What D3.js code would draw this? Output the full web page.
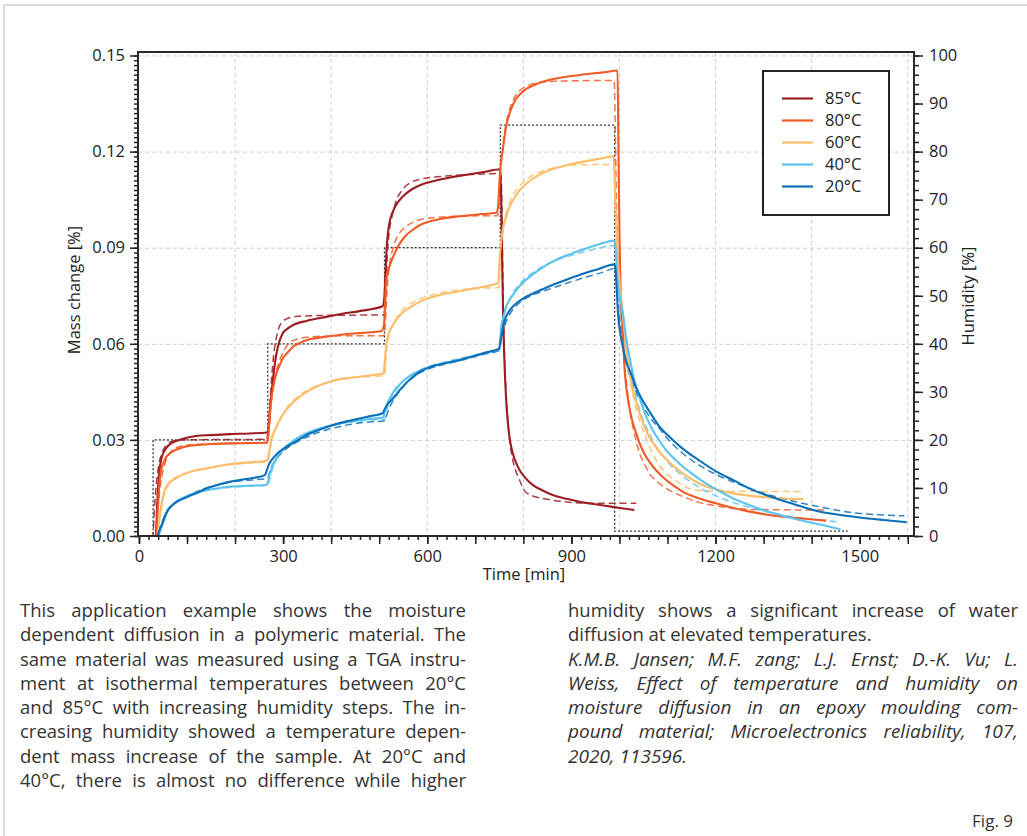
<!DOCTYPE html>
<html><head><meta charset="utf-8">
<script src="https://cdn.jsdelivr.net/npm/d3@7/dist/d3.min.js"></script>
<style>
html,body{margin:0;padding:0;background:#fff;}
#wrap{position:relative;width:1027px;height:836px;overflow:hidden;}
svg{position:absolute;left:0;top:0;}
.col{position:absolute;font-family:"Open Sans",sans-serif;font-size:18.5px;line-height:24.3px;color:#333;}
.col div{text-align:justify;text-align-last:justify;white-space:nowrap;}
.col div.last{text-align-last:left;}
.col .it{font-style:italic;font-size:19px;}
#fig{position:absolute;right:14px;top:809px;font-family:"Open Sans",sans-serif;font-size:17px;color:#333;}
</style></head>
<body><div id="wrap"><svg id="chart" width="1027" height="836"></svg>
<div class="col" id="leftcol" style="left:20px;top:598px;width:446px;"></div>
<div class="col" id="rightcol" style="left:568px;top:598px;width:450px;"></div>
<div id="fig">Fig. 9</div>
</div>
<script>
// ---------- DATA ----------
const legendLabels = ["85°C","80°C","60°C","40°C","20°C"];
const seriesColors = ["#9b1c22","#f05a24","#fdbd68","#5cc3ee","#0b70b8"];
const yTicks = [0,0.03,0.06,0.09,0.12,0.15];
const xTicks = [0,300,600,900,1200,1500];
const hTicks = [0,10,20,30,40,50,60,70,80,90,100];

// humidity program [min, %]
const humT = [0,29.5,29.5,268,268,511,511,752,752,990,990,1475];
const humV = [0,0,20,20,40,40,60,60,85.5,85.5,1,1];

// measured (solid) [min, mass %]
const meas85 = [[0,0],[35,0],[38,0.010],[41,0.018],[46,0.0237],[51,0.026],[57,0.0275],[68,0.029],[84,0.0300],[100,0.0307],[119,0.0312],[150,0.0315],[188,0.0318],[230,0.032],[266,0.0323],
[270,0.034],[274,0.042],[278,0.0476],[283,0.054],[289,0.059],[299,0.0632],[310,0.0648],[320,0.0658],[350,0.0672],[390,0.0684],[420,0.0693],[459,0.0702],[507,0.0717],
[511,0.075],[513,0.082],[516,0.091],[521,0.0975],[528,0.1011],[542,0.1048],[555,0.1068],[570,0.1084],[590,0.1098],[618,0.111],[650,0.112],[688,0.1129],[720,0.1137],[752,0.1145],
[754,0.105],[756,0.085],[758,0.068],[761,0.053],[764,0.043],[768,0.035],[772,0.030],[778,0.0258],[785,0.0228],[792,0.0206],[805,0.018],[820,0.0159],[840,0.0142],[861,0.0128],[890,0.0116],[917,0.0107],[950,0.0099],[986,0.0091],[1031,0.0081]];
const meas80 = [[0,0],[36,0],[39,0.008],[42,0.015],[46,0.0206],[51,0.0228],[57,0.0247],[68,0.0262],[84,0.0273],[100,0.028],[119,0.0284],[150,0.0287],[188,0.0289],[230,0.029],[266,0.0292],
[269,0.031],[272,0.037],[275,0.0424],[280,0.047],[286,0.0508],[292,0.053],[299,0.0554],[308,0.057],[320,0.059],[335,0.0603],[355,0.0614],[390,0.0622],[424,0.0629],[465,0.0634],[505,0.064],
[510,0.066],[512,0.072],[514,0.0788],[517,0.082],[521,0.084],[528,0.0868],[535,0.0892],[545,0.0918],[556,0.0939],[570,0.0956],[584,0.097],[605,0.0982],[632,0.0991],[660,0.0997],[688,0.1001],[715,0.1005],[745,0.101],
[748,0.104],[750,0.110],[753,0.116],[757,0.1204],[764,0.1277],[771,0.1318],[778,0.1345],[785,0.1365],[795,0.1382],[806,0.1396],[820,0.1406],[834,0.1415],[850,0.1422],[868,0.1428],[900,0.1436],[938,0.1443],[970,0.1448],[996,0.1453],
[998,0.12],[1000,0.095],[1003,0.0746],[1007,0.0643],[1010,0.0539],[1013,0.048],[1017,0.0434],[1022,0.039],[1028,0.0352],[1035,0.032],[1042,0.0289],[1050,0.0262],[1062,0.0232],[1078,0.0202],[1097,0.0175],[1115,0.0155],[1132,0.0138],[1165,0.0118],[1201,0.0102],[1235,0.0088],[1271,0.0076],[1305,0.0067],[1340,0.006],[1385,0.0054],[1430,0.0048]];
const meas60 = [[0,0],[38,0],[42,0.005],[46,0.009],[50,0.0123],[57,0.0154],[63,0.0166],[70,0.0175],[84,0.0187],[98,0.0196],[120,0.0205],[140,0.0211],[165,0.0218],[188,0.0224],[230,0.023],[266,0.0235],
[270,0.0255],[273,0.028],[275,0.030],[280,0.0322],[286,0.0341],[295,0.0368],[306,0.0393],[320,0.0416],[334,0.0434],[350,0.0451],[369,0.0466],[390,0.0478],[410,0.0487],[435,0.0493],[459,0.0497],[485,0.0502],[509,0.0507],
[512,0.055],[514,0.059],[517,0.0615],[521,0.0637],[528,0.0657],[535,0.0674],[545,0.0692],[556,0.0705],[570,0.0719],[584,0.0731],[600,0.0741],[618,0.0749],[640,0.0757],[667,0.0764],[690,0.0771],[709,0.0776],[730,0.0782],[748,0.079],
[750,0.085],[752,0.0892],[757,0.0955],[764,0.0997],[771,0.1027],[780,0.1052],[792,0.1079],[805,0.1099],[820,0.1116],[836,0.113],[854,0.1142],[878,0.1153],[903,0.1162],[930,0.117],[960,0.1178],[988,0.1185],
[991,0.105],[995,0.09],[1000,0.0799],[1007,0.0695],[1014,0.059],[1019,0.053],[1024,0.0487],[1030,0.0443],[1038,0.0403],[1046,0.0366],[1055,0.0331],[1068,0.0295],[1083,0.0263],[1100,0.0236],[1118,0.0211],[1140,0.0187],[1166,0.0164],[1200,0.0146],[1236,0.0133],[1270,0.0126],[1305,0.0121],[1345,0.0117],[1383,0.0115]];
const meas40 = [[0,0],[40,0],[44,0.0015],[47,0.0028],[50,0.004],[55,0.0062],[60,0.0081],[68,0.0095],[77,0.0107],[90,0.0118],[105,0.0128],[120,0.0136],[140,0.0143],[165,0.0149],[188,0.0154],[230,0.0157],[266,0.016],
[269,0.0172],[272,0.019],[276,0.021],[282,0.0232],[290,0.0252],[300,0.027],[313,0.0288],[327,0.0303],[345,0.0318],[365,0.033],[390,0.0342],[420,0.0352],[450,0.0359],[480,0.0365],[508,0.037],
[512,0.039],[517,0.0415],[524,0.0435],[532,0.0455],[542,0.0472],[555,0.049],[570,0.0505],[590,0.052],[610,0.053],[640,0.054],[670,0.0551],[700,0.0563],[730,0.0575],[750,0.0583],
[752,0.061],[754,0.0653],[758,0.068],[764,0.0715],[772,0.0738],[785,0.0767],[798,0.079],[813,0.0809],[832,0.083],[854,0.0851],[880,0.087],[910,0.0887],[935,0.09],[958,0.0911],[990,0.0922],
[993,0.088],[996,0.08],[1001,0.0745],[1007,0.0695],[1012,0.064],[1017,0.059],[1024,0.0535],[1031,0.0487],[1040,0.0443],[1048,0.0403],[1058,0.0365],[1069,0.0331],[1083,0.0298],[1097,0.0268],[1115,0.024],[1132,0.0216],[1155,0.019],[1180,0.0164],[1208,0.014],[1236,0.0118],[1270,0.0097],[1305,0.0078],[1340,0.0063],[1375,0.005],[1420,0.0035],[1460,0.0021]];
const meas20 = [[0,0],[38,0],[42,0.0015],[46,0.003],[50,0.0045],[55,0.0065],[60,0.008],[68,0.0094],[77,0.0105],[90,0.0115],[105,0.0125],[120,0.0134],[140,0.0148],[165,0.016],[188,0.0169],[220,0.0177],[245,0.0183],[262,0.019],
[266,0.0205],[270,0.0222],[275,0.0235],[282,0.0248],[292,0.0263],[305,0.0277],[320,0.0289],[337,0.0305],[355,0.032],[378,0.0333],[403,0.0346],[430,0.0357],[459,0.0367],[485,0.0375],[507,0.0383],
[511,0.0395],[517,0.041],[528,0.0428],[538,0.0447],[549,0.0466],[565,0.049],[584,0.0512],[600,0.0524],[618,0.0533],[640,0.0541],[667,0.0549],[695,0.0561],[725,0.0574],[750,0.0585],
[752,0.0605],[754,0.0622],[758,0.0655],[764,0.0684],[772,0.0705],[785,0.0726],[800,0.0742],[820,0.0757],[843,0.0772],[868,0.0788],[895,0.0803],[924,0.0819],[955,0.0833],[990,0.0848],
[992,0.083],[994,0.078],[997,0.0695],[1002,0.063],[1007,0.059],[1014,0.0545],[1024,0.0507],[1035,0.0462],[1048,0.0424],[1064,0.0385],[1080,0.0348],[1105,0.0308],[1132,0.0272],[1165,0.0237],[1201,0.0202],[1240,0.0172],[1271,0.0148],[1305,0.0128],[1340,0.011],[1375,0.0094],[1409,0.0079],[1450,0.0068],[1500,0.0058],[1550,0.005],[1598,0.0043]];

// model fits (dashed)
const fit85 = [[0,0],[29,0],[32,0.008],[36,0.016],[41,0.022],[48,0.026],[58,0.0285],[70,0.0296],[90,0.0300],[150,0.0301],[266,0.0302],
[269,0.034],[272,0.040],[275,0.047],[280,0.056],[286,0.062],[294,0.066],[306,0.0677],[330,0.0686],[400,0.0689],[510,0.069],
[512,0.072],[514,0.078],[517,0.088],[521,0.095],[527,0.100],[535,0.1045],[548,0.108],[565,0.1103],[590,0.1115],[640,0.1124],[700,0.1129],[752,0.1132],
[754,0.112],[756,0.095],[758,0.075],[760,0.06],[764,0.045],[770,0.032],[778,0.0237],[785,0.0200],[792,0.0175],[803,0.0140],[820,0.0125],[844,0.0116],[880,0.0108],[917,0.0103],[1035,0.0102]];
const fit80 = [[0,0],[36,0],[39,0.007],[43,0.014],[48,0.019],[55,0.023],[65,0.026],[80,0.0277],[100,0.0284],[150,0.0288],[266,0.029],
[269,0.031],[273,0.038],[279,0.046],[287,0.052],[297,0.0565],[310,0.0598],[328,0.0614],[360,0.0622],[420,0.0625],[510,0.0625],
[512,0.065],[514,0.07],[517,0.078],[522,0.085],[530,0.0905],[542,0.0945],[558,0.0968],[580,0.0985],[620,0.0995],[680,0.0999],[747,0.1],
[750,0.106],[753,0.114],[757,0.121],[763,0.128],[770,0.1325],[780,0.1365],[792,0.139],[808,0.1405],[830,0.1415],[870,0.142],[989,0.1422],
[991,0.13],[993,0.11],[996,0.09],[999,0.08],[1003,0.07],[1008,0.058],[1014,0.0487],[1020,0.041],[1028,0.0341],[1035,0.0295],[1042,0.0258],[1052,0.0225],[1062,0.0196],[1080,0.0168],[1097,0.0149],[1115,0.0134],[1132,0.0123],[1165,0.0105],[1201,0.0094],[1235,0.0087],[1271,0.0083],[1430,0.0081]];
const fit60 = [[0,0],[38,0],[42,0.004],[47,0.009],[53,0.013],[60,0.0155],[70,0.0172],[85,0.0186],[100,0.0196],[125,0.0207],[150,0.0215],[190,0.0223],[230,0.0228],[268,0.0231],
[270,0.0245],[274,0.028],[280,0.0318],[288,0.0348],[298,0.0378],[310,0.0405],[325,0.0428],[345,0.0451],[370,0.0469],[400,0.0483],[440,0.0493],[480,0.0498],[511,0.050],
[513,0.053],[515,0.057],[518,0.0608],[522,0.0635],[530,0.0664],[540,0.0689],[553,0.0712],[570,0.0729],[590,0.0743],[615,0.0755],[645,0.0764],[680,0.077],[720,0.0774],[749,0.0775],
[751,0.082],[753,0.087],[756,0.092],[760,0.0975],[768,0.1025],[778,0.1062],[790,0.1089],[805,0.1111],[822,0.1128],[845,0.1142],[870,0.1151],[900,0.1157],[940,0.116],[990,0.116],
[992,0.105],[996,0.09],[1000,0.08],[1007,0.068],[1014,0.058],[1021,0.050],[1028,0.044],[1035,0.0395],[1042,0.036],[1052,0.032],[1062,0.028],[1072,0.025],[1083,0.022],[1096,0.0198],[1110,0.018],[1128,0.0162],[1146,0.0148],[1165,0.0142],[1190,0.014],[1383,0.0139]];
const fit40 = [[0,0],[40,0],[44,0.002],[48,0.0035],[53,0.0055],[60,0.0078],[70,0.0096],[82,0.011],[97,0.0122],[115,0.0132],[140,0.0142],[170,0.0149],[210,0.0154],[268,0.0158],
[270,0.0165],[274,0.019],[280,0.0218],[288,0.0243],[298,0.0265],[310,0.0284],[325,0.0301],[345,0.0318],[370,0.0332],[400,0.0345],[440,0.0356],[480,0.0362],[512,0.0365],
[514,0.038],[518,0.0405],[525,0.043],[535,0.0455],[548,0.048],[563,0.05],[580,0.0515],[600,0.0528],[630,0.054],[660,0.0552],[700,0.0565],[750,0.058],
[752,0.062],[755,0.066],[760,0.0695],[768,0.0728],[778,0.0758],[790,0.0782],[805,0.0805],[825,0.0828],[850,0.0849],[880,0.0867],[915,0.0883],[950,0.0896],[990,0.0907],
[992,0.088],[996,0.08],[1003,0.07],[1010,0.063],[1017,0.0565],[1024,0.05],[1032,0.045],[1041,0.040],[1051,0.0357],[1062,0.032],[1076,0.028],[1090,0.025],[1107,0.022],[1125,0.0195],[1147,0.017],[1170,0.0148],[1200,0.0126],[1230,0.0108],[1265,0.0092],[1300,0.0078],[1335,0.0067],[1370,0.0058],[1415,0.005],[1460,0.0043]];
const fit20 = [[0,0],[38,0],[42,0.002],[47,0.004],[53,0.0062],[60,0.008],[70,0.0096],[82,0.0109],[97,0.0122],[115,0.0135],[140,0.015],[170,0.0162],[210,0.0172],[268,0.018],
[270,0.019],[274,0.021],[280,0.0228],[290,0.0248],[302,0.0266],[318,0.0284],[337,0.03],[360,0.0316],[390,0.0331],[425,0.0344],[465,0.0354],[512,0.036],
[514,0.037],[520,0.0395],[528,0.042],[540,0.0448],[555,0.0475],[572,0.0497],[592,0.0515],[615,0.0528],[645,0.0539],[680,0.0552],[715,0.0566],[750,0.058],
[752,0.0595],[756,0.0625],[762,0.066],[770,0.0688],[782,0.0713],[798,0.0735],[818,0.0752],[843,0.0765],[870,0.0779],[900,0.0794],[935,0.081],[965,0.0823],[990,0.0835],
[992,0.082],[995,0.076],[1000,0.068],[1007,0.06],[1015,0.0535],[1025,0.0485],[1037,0.0442],[1050,0.0403],[1066,0.0365],[1083,0.0336],[1105,0.0295],[1130,0.026],[1166,0.0221],[1200,0.0193],[1235,0.017],[1271,0.0149],[1305,0.0131],[1340,0.0117],[1375,0.0104],[1410,0.0093],[1445,0.0083],[1479,0.0074],[1530,0.0067],[1593,0.0063]];

const measured = [meas85, meas80, meas60, meas40, meas20];
const fitted = [fit85, fit80, fit60, fit40, fit20];

const leftText = ["This application example shows the moisture",
"dependent diffusion in a polymeric material. The",
"same material was measured using a TGA instru-",
"ment at isothermal temperatures between 20°C",
"and 85°C with increasing humidity steps. The in-",
"creasing humidity showed a temperature depen-",
"dent mass increase of the sample. At 20°C and",
"40°C, there is almost no difference while higher"];
const rightText = ["humidity shows a significant increase of water",
"diffusion at elevated temperatures."];
const refText = ["K.M.B. Jansen; M.F. zang; L.J. Ernst; D.-K. Vu; L.",
"Weiss, Effect of temperature and humidity on",
"moisture diffusion in an epoxy moulding com-",
"pound material; Microelectronics reliability, 107,",
"2020, 113596."];

// ---------- CHART ----------
const svg = d3.select("#chart");
const L=138, R=914, T=52, B=536;
const x = d3.scaleLinear().domain([-2,1613]).range([L,R]);
const y = d3.scaleLinear().domain([0,0.15109]).range([B,T]);
const yH = d3.scaleLinear().domain([0,100.73]).range([B,T]);
const font = "'Open Sans', sans-serif";
const fs = 16.5;

// page border
svg.append("path").attr("d",`M4,836 L4,5 L1027,5`).attr("fill","none").attr("stroke","#dcdcdc").attr("stroke-width",2);

// grid
const grid = svg.append("g").attr("stroke","#cfcfcf").attr("stroke-width",1).attr("stroke-dasharray","4,3");
yTicks.filter(d=>d>0).forEach(v=>grid.append("line").attr("x1",L).attr("x2",R).attr("y1",y(v)+0.5).attr("y2",y(v)+0.5));
d3.range(200,1601,200).forEach(v=>grid.append("line").attr("x1",x(v)).attr("x2",x(v)).attr("y1",T).attr("y2",B));

// humidity dotted
const hum = humT.map((t,i)=>[t,humV[i]]);
svg.append("path").datum(hum).attr("fill","none").attr("stroke","#333").attr("stroke-width",1.3)
  .attr("stroke-dasharray","2,2").attr("d",d3.line().x(d=>x(d[0])).y(d=>yH(d[1])));

const line = d3.line().x(d=>x(d[0])).y(d=>y(d[1])).curve(d3.curveMonotoneX);
fitted.forEach((s,i)=>{
  svg.append("path").datum(s).attr("fill","none").attr("stroke",seriesColors[i]).attr("stroke-opacity",0.85)
    .attr("stroke-width",1.5).attr("stroke-dasharray","7,4").attr("d",line);
});
measured.forEach((s,i)=>{
  svg.append("path").datum(s).attr("fill","none").attr("stroke",seriesColors[i])
    .attr("stroke-width",2.1).attr("stroke-linejoin","round").attr("d",line);
});

// axes
function styleAxis(g){
  g.select(".domain").remove();
  g.selectAll(".tick line").attr("stroke","#222").attr("stroke-width",1.5);
  g.selectAll("text").attr("font-family",font).attr("font-size",fs).attr("fill","#222");
}
svg.append("g").attr("transform",`translate(${L},0)`)
  .call(d3.axisLeft(y).tickValues(d3.range(0,0.1501,0.0015)).tickSize(4).tickFormat("")).call(styleAxis);
svg.append("g").attr("transform",`translate(${L},0)`)
  .call(d3.axisLeft(y).tickValues(yTicks).tickSize(8).tickPadding(5).tickFormat(d3.format(".2f"))).call(styleAxis);

svg.append("g").attr("transform",`translate(${R},0)`)
  .call(d3.axisRight(yH).tickValues(d3.range(0,100.1,2)).tickSize(5).tickFormat("")).call(styleAxis);
svg.append("g").attr("transform",`translate(${R},0)`)
  .call(d3.axisRight(yH).tickValues(hTicks).tickSize(9).tickPadding(6).tickFormat(d3.format("d"))).call(styleAxis);

svg.append("g").attr("transform",`translate(0,${B})`)
  .call(d3.axisBottom(x).tickValues(d3.range(0,1601,20)).tickSize(4).tickFormat("")).call(styleAxis);
svg.append("g").attr("transform",`translate(0,${B})`)
  .call(d3.axisBottom(x).tickValues(d3.range(0,1601,100)).tickSize(8).tickFormat("")).call(styleAxis);
svg.append("g").attr("transform",`translate(0,${B})`)
  .call(d3.axisBottom(x).tickValues(xTicks).tickSize(8).tickPadding(6).tickFormat(d3.format("d"))).call(styleAxis);

// frame
svg.append("rect").attr("x",L).attr("y",T).attr("width",R-L).attr("height",B-T)
  .attr("fill","none").attr("stroke","#2a2a2a").attr("stroke-width",2);

// axis titles
svg.append("text").attr("transform","translate(80,290) rotate(-90)").attr("text-anchor","middle")
  .attr("font-family",font).attr("font-size",fs).attr("fill","#222").text("Mass change [%]");
svg.append("text").attr("transform","translate(974,296) rotate(-90)").attr("text-anchor","middle")
  .attr("font-family",font).attr("font-size",fs).attr("fill","#222").text("Humidity [%]");
svg.append("text").attr("x",524).attr("y",580).attr("text-anchor","middle")
  .attr("font-family",font).attr("font-size",fs).attr("fill","#222").text("Time [min]");

// legend
const lg = svg.append("g");
lg.append("rect").attr("x",763).attr("y",71).attr("width",126).attr("height",144)
  .attr("fill","#fff").attr("stroke","#222").attr("stroke-width",2);
legendLabels.forEach((lab,i)=>{
  const yy = 98.5 + i*22;
  lg.append("line").attr("x1",782).attr("x2",813).attr("y1",yy).attr("y2",yy)
    .attr("stroke",seriesColors[i]).attr("stroke-width",2.2);
  lg.append("text").attr("x",825).attr("y",yy).attr("dy","0.35em").attr("font-family",font)
    .attr("font-size",fs).attr("fill","#222").text(lab);
});

// body text
const lc = d3.select("#leftcol");
leftText.forEach(t=>lc.append("div").text(t));
const rc = d3.select("#rightcol");
rightText.forEach((t,i)=>rc.append("div").attr("class",i===rightText.length-1?"last":null).text(t));
refText.forEach((t,i)=>rc.append("div").attr("class",i===refText.length-1?"it last":"it").text(t));
</script>
</body></html>
